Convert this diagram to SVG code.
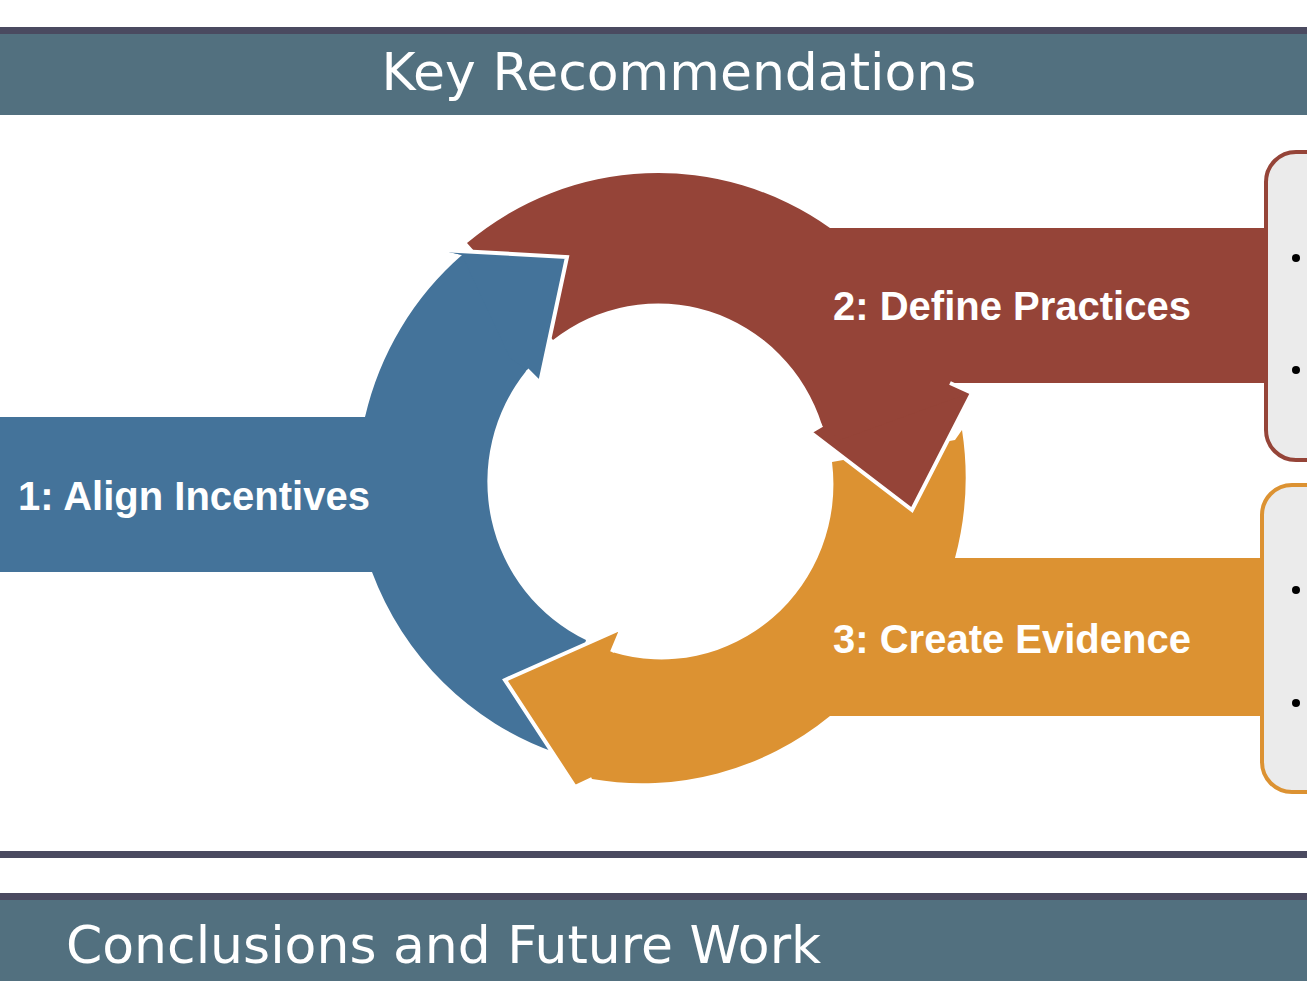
<svg xmlns="http://www.w3.org/2000/svg" width="1307" height="981" viewBox="0 0 1307 981">
<style>
.bar{fill:#52707f}.line{fill:#4a4a60}
.title{font-family:"DejaVu Sans","Liberation Sans",sans-serif;font-size:52px;fill:#fff}
.lbl{font-family:"Liberation Sans",Arial,sans-serif;font-weight:bold;font-size:40px;fill:#fff}
.edge{fill:none;stroke:#fff;stroke-width:4;stroke-linejoin:miter}
.box{fill:#ebebeb;stroke-width:4}
.dot{fill:#000}
</style>
<rect width="1307" height="981" fill="#fff"/>
<g id="header">
<rect class="line" x="0" y="27" width="1307" height="7"/>
<rect class="bar" x="0" y="34" width="1307" height="81"/>
<text class="title" x="679" y="90" text-anchor="middle">Key Recommendations</text>
</g>
<g id="footer">
<rect class="line" x="0" y="851" width="1307" height="7"/>
<rect class="line" x="0" y="893" width="1307" height="7"/>
<rect class="bar" x="0" y="900" width="1307" height="81"/>
<text class="title" x="66" y="963">Conclusions and Future Work</text>
</g>
<g id="box2">
<rect class="box" stroke="#954438" x="1266" y="152" width="80" height="308" rx="30"/>
<circle class="dot" cx="1296" cy="258" r="4"/><circle class="dot" cx="1296" cy="370" r="4"/>
</g>
<g id="box3">
<rect class="box" stroke="#dc9232" x="1262" y="485" width="80" height="307" rx="30"/>
<circle class="dot" cx="1296" cy="590" r="4"/><circle class="dot" cx="1296" cy="703" r="4"/>
</g>
<g id="connectors">
<path id="blue" fill="#44739a" d="M0 417 L365 417 A300 305 0 0 1 462 255 L440 250 L567 257 L540 383 L527 370 A172 175 0 0 0 586 640 L554 752 A300 305 0 0 1 372 572 L0 572 Z"/>
<path id="red" fill="#954438" d="M467 243 A300 305 0 0 1 830 228 L1266 228 L1266 383 L950 383 L972 393 L912 510 L810 432 L822 425 A172 175 0 0 0 553 340 Z"/>
<path id="orange" fill="#dc9232" d="M962 430 A300 305 0 0 1 955 558 L1262 558 L1262 716 L830 716 A300 305 0 0 1 592 779 L575 787 L505 680 L622 628 L612 652 A172 175 0 0 0 832 462 L955 440 Z"/>
<polygon fill="#954438" points="972,393 912,510 810,432 822,425 840,440 950,400"/>
<polygon fill="#44739a" points="440,250 567,257 540,383 527,370 510,358 462,255"/>
<polyline class="edge" points="440,250 567,257 540,383 527,370"/>
<polyline class="edge" points="950,383 972,393 912,510 810,432 822,425"/>
<polyline class="edge" points="592,779 575,787 505,680 622,628 612,652"/>
</g>
<g id="labels">
<text class="lbl" x="18" y="510">1: Align Incentives</text>
<text class="lbl" x="833" y="320">2: Define Practices</text>
<text class="lbl" x="833" y="653">3: Create Evidence</text>
</g>
</svg>
